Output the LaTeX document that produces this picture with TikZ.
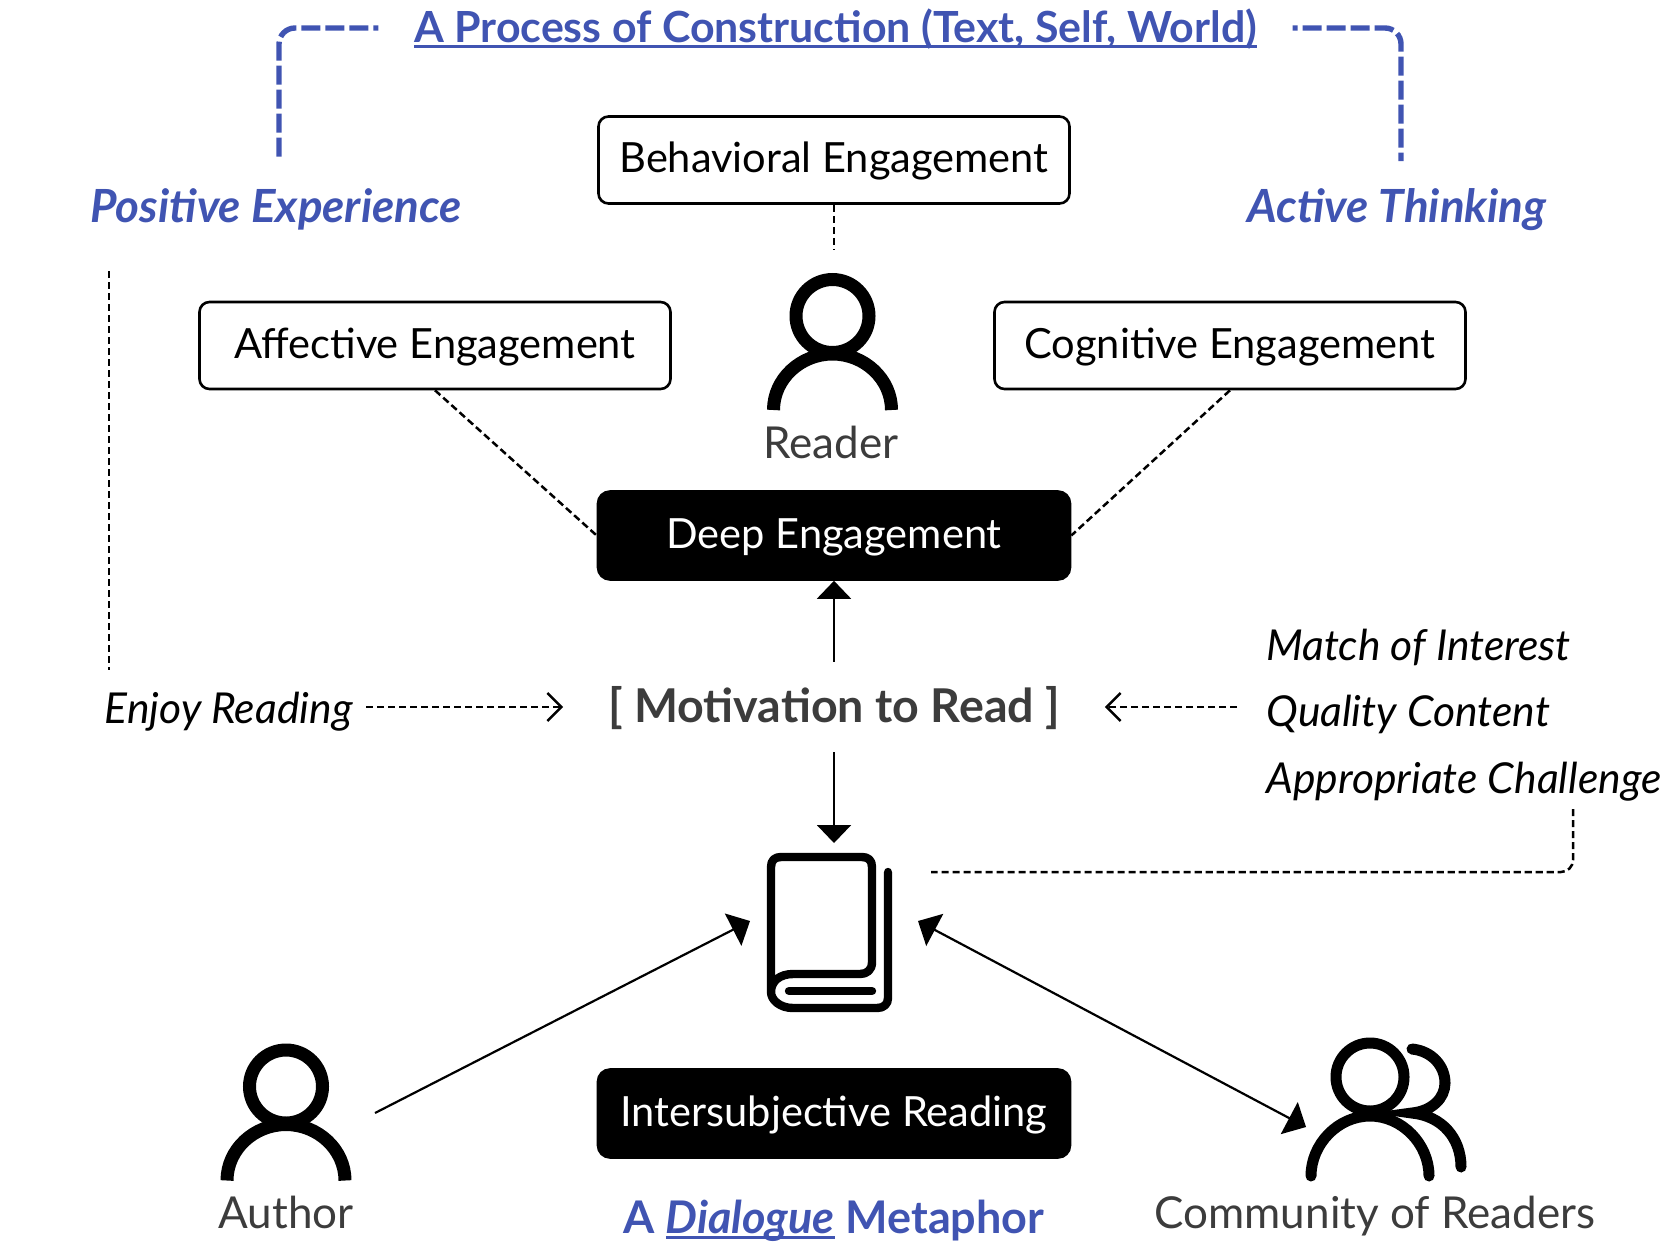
\documentclass[tikz,border=0pt]{standalone}
\usepackage{fontspec}
\usetikzlibrary{arrows.meta}
\setmainfont{Lato}
\definecolor{dlgblue}{HTML}{4054B2}
\definecolor{dlggrey}{HTML}{3C3C3C}
\newcommand{\undertext}[1]{\setbox0\hbox{#1}\rlap{\rule[-3pt]{\wd0}{1.4pt}}\box0\relax}
\tikzstyle{txt} = [inner sep=0pt]
\tikzstyle{card} = [draw=black, line width=1.3pt, rounded corners=5pt, minimum width=235.5pt, minimum height=43.5pt, txt, text height=15.5pt, text depth=3pt, font=\fontsize{20.8}{24}\selectfont]
\tikzstyle{darkcard} = [card, fill=black, text=white, rounded corners=6pt, minimum width=236pt, minimum height=44pt]
\tikzstyle{accent} = [txt, text height=19.5pt, text depth=3.5pt, text=dlgblue, font=\fontsize{22.85}{26}\selectfont\bfseries]
\tikzstyle{who} = [txt, text height=18.5pt, text depth=3.3pt, text=dlggrey, font=\fontsize{22}{26}\selectfont]
\tikzstyle{cue} = [txt, text height=19.5pt, text depth=3.2pt, font=\fontsize{21.3}{24}\selectfont\itshape]
\tikzstyle{hair} = [line width=1.25pt, dash pattern=on 3.6pt off 1.9pt]
\tikzstyle{route} = [dlgblue, line width=2.7pt, dash pattern=on 9.5pt off 2.5pt, dash phase=7pt, rounded corners=8pt]
\tikzstyle{tipped} = [line width=1.1pt, -{Triangle[length=9pt,width=17pt]}]
\tikzstyle{bigtip} = [line width=1.1pt, -{Triangle[length=9.5pt,width=18pt]}]
\tikzstyle{bigboth} = [line width=1.1pt, {Triangle[length=9.5pt,width=18pt]}-{Triangle[length=9.5pt,width=18pt]}]
\tikzstyle{barbed} = [hair, -{Straight Barb[length=7pt,width=14pt,line width=1.2pt]}]
\tikzset{
  reader/.pic={
    \draw[line width=6.5pt] (0,0) circle (36.5);
    \draw[line width=6.5pt] (-59,94) .. controls (-59,63) and (-32,38) .. (0,38) .. controls (32,38) and (59,63) .. (59,94);
  },
  readers/.pic={
    \draw[line width=5.5pt] (0,1) circle (34);
    \draw[line width=5.5pt, line cap=round] (-59,100) .. controls (-59,68) and (-32,40) .. (0,40) .. controls (32,40) and (59,68) .. (59,100);
    \draw[line width=5.5pt, line cap=round] (42,-27) .. controls (62,-25) and (75,-10) .. (75,7) .. controls (75,22) and (62,35) .. (42,37) .. controls (72,40) and (91,62) .. (91,91);
  },
  volume/.pic={
    \draw[line width=4.2pt, line join=round] (-59,61) -- (-59,-64) .. controls (-59,-71) and (-55,-74) .. (-49,-74) -- (32,-74) .. controls (38,-74) and (42,-71) .. (42,-64) -- (42,31) .. controls (42,39) and (37,43) .. (30,43) -- (-37,43) .. controls (-50,43) and (-59,50) .. (-59,61) .. controls (-59,69) and (-50,77) .. (-37,77) -- (47,77) .. controls (54,77) and (58,73) .. (58,67) -- (58,-59);
    \draw[line width=4.2pt, line cap=round] (58,-59) -- (58,-58);
    \draw[line width=4.2pt, line cap=round] (-41,60) -- (42,60);
  }
}
\begin{document}
\begin{tikzpicture}[x=.5pt,y=-.5pt]
        \useasboundingbox (0,0) rectangle (1680,1254);
        % cards
        \node[card](behavioral) at (834,160){Behavioral Engagement};
        \node[card](affective) at (435,345.5){Affective Engagement};
        \node[card](cognitive) at (1230,345.5){Cognitive Engagement};
        \node[darkcard](deep) at (834,535.5){Deep Engagement};
        \node[darkcard](inter) at (834,1113.5){Intersubjective Reading};
        % blue texts
        \node[accent,inner xsep=17.75pt,text height=17.5pt,font=\fontsize{21.45}{26}\selectfont\bfseries](title) at (835.5,28){\undertext{A Process of Construction (Text, Self, World)}};
        \node[accent](positive) at (276,206){\itshape Positive Experience};
        \node[accent](active) at (1397,206){\itshape Active Thinking};
        \node[accent,font=\fontsize{22.5}{26}\selectfont\bfseries](dialogue) at (834,1217){A \undertext{\itshape Dialogue} Metaphor};
        % names
        \node[who](reader) at (831,443){Reader};
        \node[who](author) at (286,1213){Author};
        \node[who](community) at (1375,1213){Community of Readers};
        % the middle row
        \node[txt,minimum width=270.5pt,minimum height=45pt,text height=18.5pt,text depth=3.5pt,text=dlggrey,font=\fontsize{23.3}{26}\selectfont\bfseries](motivation) at (834,707){[ Motivation to Read ]};
        \node[cue,anchor=east,inner xsep=6.5pt](enjoy) at (366,707){Enjoy Reading};
        \node[cue,anchor=west](match) at (1266,644){Match of Interest};
        \node[cue,anchor=west,inner xsep=14.5pt](quality) at (1237,710){Quality Content};
        \node[cue,anchor=west](challenge) at (1266,777){Appropriate Challenge};
        % icons
        \pic at (832.5,316) {reader};
        \pic at (286,1086.5) {reader};
        \pic at (1370,1076) {readers};
        \pic at (830,931) {volume};
        % free ends
        \coordinate (readertop) at (834,250);
        \coordinate (routeleft) at (279,161);
        \coordinate (routeright) at (1401,161);
        \coordinate (sidetop) at (109,271);
        \coordinate (sidebot) at (109,670);
        \coordinate (booktop) at (834,843);
        \coordinate (bookleft) at (750,921);
        \coordinate (bookright) at (918,921);
        \coordinate (bookside) at (931,872);
        \coordinate (authorend) at (375,1113);
        \coordinate (groupend) at (1306,1127);
        \coordinate (chalend) at (1573,809);
        % connectors
        \draw[route](title.west)-|(routeleft);
        \draw[route](title.east)-|(routeright);
        \draw[hair](behavioral.south)--(readertop);
        \draw[hair](affective.south)--(deep.west);
        \draw[hair](cognitive.south)--(deep.east);
        \draw[hair](sidetop)--(sidebot);
        \draw[tipped](motivation.north)--(deep.south);
        \draw[tipped](motivation.south)--(booktop);
        \draw[barbed](enjoy.east)--(motivation.west);
        \draw[barbed](quality.west|-motivation.east)--(motivation.east);
        \draw[hair,rounded corners=6pt](chalend)|-(bookside);
        \draw[bigtip](authorend)--(bookleft);
        \draw[bigboth](bookright)--(groupend);
      \end{tikzpicture}
\end{document}
